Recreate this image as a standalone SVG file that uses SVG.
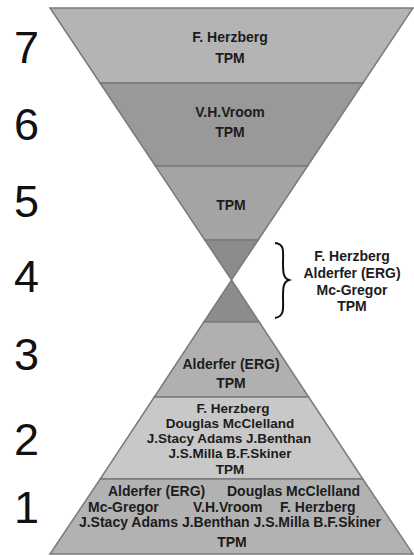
<svg xmlns="http://www.w3.org/2000/svg" width="414" height="556" viewBox="0 0 414 556">
<style>
.band{stroke:#7a7a7a;stroke-width:1.5;stroke-linejoin:miter}
.num{font-family:"Liberation Sans",Arial,sans-serif;font-size:45px;fill:#111}
.lbl{font-family:"Liberation Sans",Arial,sans-serif;font-weight:bold;font-size:14px;fill:#1c1c1c;text-anchor:middle}
.lbl1{font-family:"Liberation Sans",Arial,sans-serif;font-weight:bold;font-size:14px;fill:#1c1c1c}
.sm{font-size:13.5px}
</style>
<rect width="414" height="556" fill="#ffffff"/>
<g id="level7">
<polygon class="band" fill="#b4b4b4" points="50,8 413,8 363,83 100,83"/>
<text class="num" x="14" y="63">7</text>
<text class="lbl" x="230" y="42">F. Herzberg</text>
<text class="lbl" x="230" y="63">TPM</text>
</g>
<g id="level6">
<polygon class="band" fill="#999999" points="100,83 363,83 307.6,166 155.4,166"/>
<text class="num" x="14" y="140">6</text>
<text class="lbl" x="230" y="117">V.H.Vroom</text>
<text class="lbl" x="230" y="137">TPM</text>
</g>
<g id="level5">
<polygon class="band" fill="#a4a4a4" points="155.4,166 307.6,166 258.2,240 204.8,240"/>
<text class="num" x="14" y="217">5</text>
<text class="lbl" x="231" y="210">TPM</text>
</g>
<g id="level4">
<polygon class="band" fill="#8c8c8c" points="204.8,240 258.2,240 231.5,280"/>
<polygon class="band" fill="#8c8c8c" points="231.5,280 259.2,322 203.8,322"/>
<text class="num" x="14" y="292">4</text>
<path d="M275,243 C285,244 283,252 283,262 C283,272 283,278 289,280 C283,282 283,288 283,298 C283,308 285,316 275,318" fill="none" stroke="#111" stroke-width="2"/>
<text class="lbl" x="352" y="261">F. Herzberg</text>
<text class="lbl" x="352" y="278">Alderfer (ERG)</text>
<text class="lbl" x="352" y="295">Mc-Gregor</text>
<text class="lbl" x="352" y="311">TPM</text>
</g>
<g id="level3">
<polygon class="band" fill="#b0b0b0" points="203.8,322 259.2,322 308.7,397 154.3,397"/>
<text class="num" x="14" y="370">3</text>
<text class="lbl" x="231" y="369">Alderfer (ERG)</text>
<text class="lbl" x="231" y="388">TPM</text>
</g>
<g id="level2">
<polygon class="band" fill="#c8c8c8" points="154.3,397 308.7,397 362.8,479 100.2,479"/>
<text class="num" x="14" y="455">2</text>
<text class="lbl sm" x="233" y="413">F. Herzberg</text>
<text class="lbl sm" x="230" y="428">Douglas McClelland</text>
<text class="lbl sm" x="229" y="443">J.Stacy Adams J.Benthan</text>
<text class="lbl sm" x="230" y="458">J.S.Milla B.F.Skiner</text>
<text class="lbl sm" x="230" y="474">TPM</text>
</g>
<g id="level1">
<polygon class="band" fill="#b2b2b2" points="100.2,479 362.8,479 413,554 50,554"/>
<text class="num" x="14" y="523">1</text>
<text class="lbl1" x="108" y="496">Alderfer (ERG)</text>
<text class="lbl1" x="227" y="496">Douglas McClelland</text>
<text class="lbl1" x="88" y="512">Mc-Gregor</text>
<text class="lbl1" x="193" y="512">V.H.Vroom</text>
<text class="lbl1" x="280" y="512">F. Herzberg</text>
<text class="lbl" x="230" y="527">J.Stacy Adams J.Benthan J.S.Milla B.F.Skiner</text>
<text class="lbl" x="232" y="547">TPM</text>
</g>
<g id="connectors"></g>
</svg>
